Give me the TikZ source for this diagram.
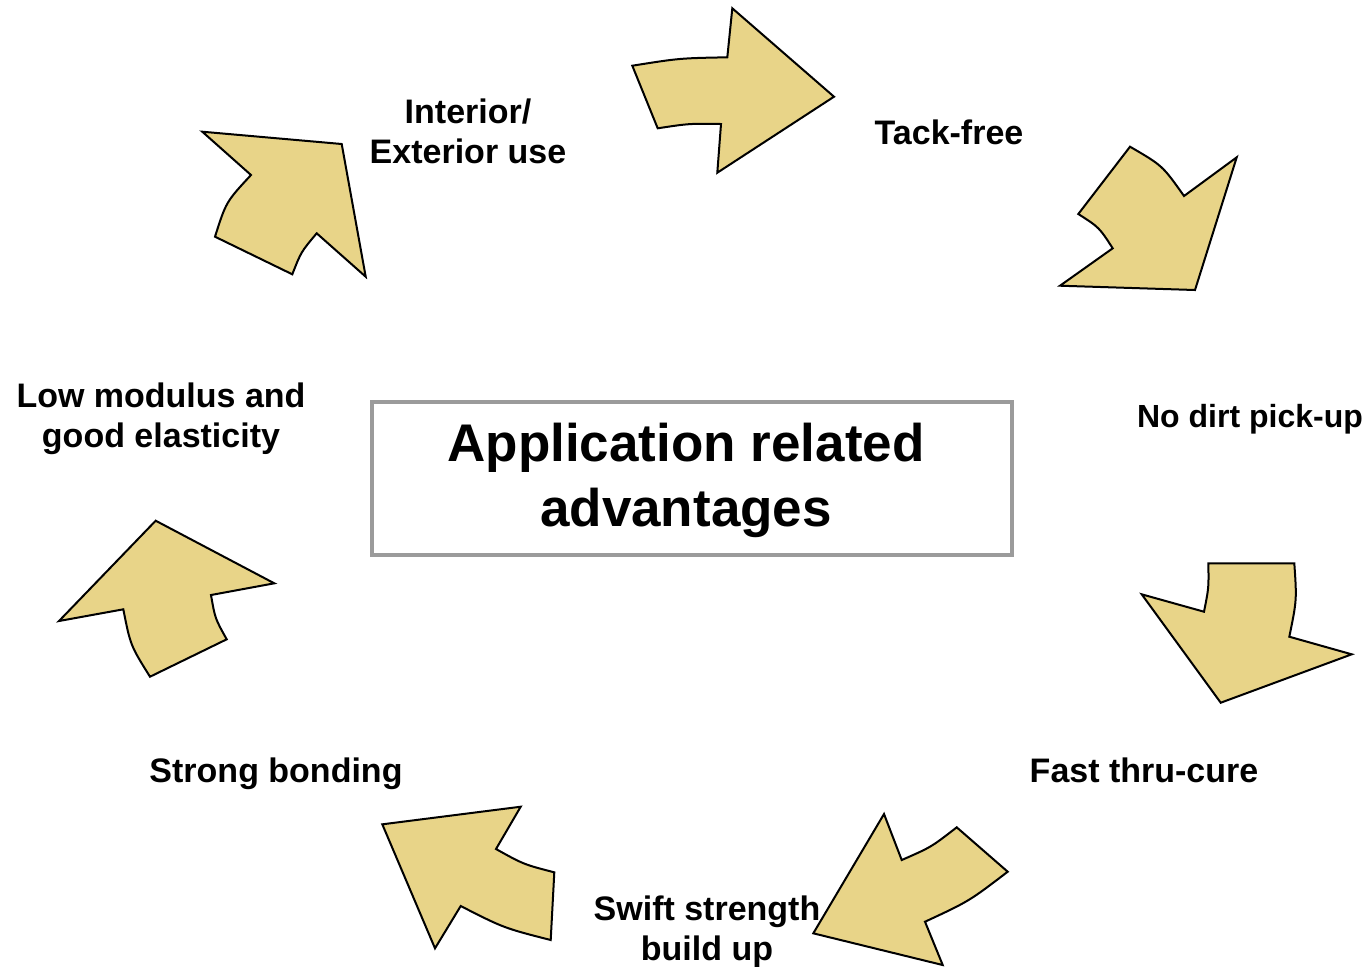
\documentclass[tikz,border=0pt]{standalone}
\usepackage{fontspec}
\setmainfont{Liberation Sans}
\definecolor{sand}{RGB}{232,212,136}
\definecolor{boxgray}{RGB}{155,155,155}

\begin{document}
\begin{tikzpicture}[x=0.5pt,y=-0.5pt,
  blob/.style={fill=sand,draw=black,line width=1pt,line join=miter},
  lbl/.style={font=\fontsize{17}{20}\selectfont\bfseries,align=center,inner sep=0pt},
  titlebox/.style={draw=boxgray,line width=1.8pt,
    minimum width=320pt,minimum height=76.5pt},
  titletext/.style={align=center,inner sep=0pt,
    font=\fontsize{26.5}{32.5}\selectfont\bfseries}]

  \useasboundingbox (0,0) rectangle (1368,966);

  % centre box
  \node[titlebox] (title) at (692,478.5) {};
  \node[titletext] (titlelbl) at (686,480) {Application related\\advantages};

  % arrows, clockwise from the top
  \filldraw[blob] (632.3,65.7) .. controls (679.5,58.2) .. (727.3,57.3) -- (732.3,8.3)
    -- (834,96.7) -- (717.3,172.7) -- (721,124) .. controls (689.2,123.5) .. (657.7,128.3) -- cycle;
  \filldraw[blob] (1130,146.7) .. controls (1162.4,165.5) .. (1184,196) -- (1236.7,157.3)
    -- (1195,290) -- (1060,285.7) -- (1112.7,248.3) .. controls (1099.2,227.4) .. (1078.3,214) -- cycle;
  \filldraw[blob] (1204,611.7) .. controls (1208.8,587.5) .. (1208.3,563.3) -- (1294.3,563.3)
    .. controls (1296.8,600) .. (1289.3,636.7) -- (1351.7,654.3) -- (1220.7,702.7) -- (1141.7,594.3) -- cycle;
  \filldraw[blob] (1007.7,871.7) .. controls (969.1,901.2) .. (925,921.7) -- (942.7,965)
    -- (813.3,933.3) -- (884,814) -- (901.7,860) .. controls (931.2,847.1) .. (956.7,827.3) -- cycle;
  \filldraw[blob] (520.7,806.7) -- (382.3,824.3) -- (435,948.3) -- (460.7,906)
    .. controls (503.8,928) .. (550.7,940) -- (554.3,872.3) .. controls (523.7,864.4) .. (496,849) -- cycle;
  \filldraw[blob] (155.7,520.7) -- (274.3,583.3) -- (211,595) .. controls (215.1,618.5) .. (226.7,639.3)
    -- (150,676.7) .. controls (130.5,645.5) .. (123.3,609.3) -- (59,621) -- cycle;
  \filldraw[blob] (202.3,131.7) -- (341.7,144) -- (365.7,276.7) -- (316.7,233.3)
    .. controls (301.1,251.8) .. (292.3,274.3) -- (215,236.7) .. controls (226.1,201.8) .. (251,175) -- cycle;

  % labels
  \node[lbl] (interior) at (468,131)  {Interior/\\Exterior use};
  \node[lbl] (tack)     at (949,132)  {Tack-free};
  \node[lbl,font=\fontsize{16}{20}\selectfont\bfseries] (dirt) at (1250,419) {No dirt pick-up};
  \node[lbl] (fast)     at (1144,770) {Fast thru-cure};
  \node[lbl] (swift)    at (707,932)  {Swift strength\\build up};
  \node[lbl] (strong)   at (276,774)  {Strong bonding};
  \node[lbl] (lowmod)   at (161,419)  {Low modulus and\\good elasticity};

\end{tikzpicture}
\end{document}
